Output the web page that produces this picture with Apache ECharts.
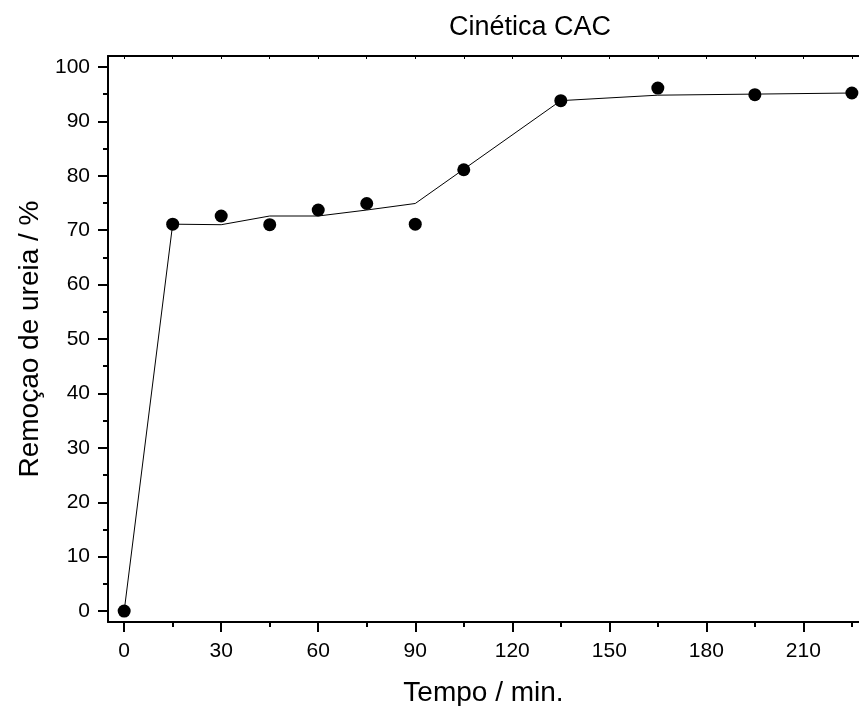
<!DOCTYPE html>
<html><head><meta charset="utf-8">
<script src="https://cdn.jsdelivr.net/npm/echarts@6/dist/echarts.min.js"></script>
<style>html,body{margin:0;padding:0;background:#fff}#c{width:859px;height:706px}</style>
</head><body><div id="c"></div>
<script>
const time = [0, 15, 30, 45, 60, 75, 90, 105, 135, 165, 195, 225];
const removal = [0, 71.1, 72.6, 71.0, 73.7, 74.9, 71.1, 81.1, 93.8, 96.1, 94.9, 95.2];
const lineTime = [0, 15, 30, 45, 60, 75, 90, 135, 165, 195, 225];
const lineValues = [0, 71.1, 71.0, 72.6, 72.6, 73.7, 74.9, 93.8, 94.8, 95.0, 95.2];
const xMajorTicks = [0, 30, 60, 90, 120, 150, 180, 210];
const xMinorTicks = [15, 45, 75, 105, 135, 165, 195, 225];
const yMajorTicks = [0, 10, 20, 30, 40, 50, 60, 70, 80, 90, 100];
const yMinorTicks = [5, 15, 25, 35, 45, 55, 65, 75, 85, 95];
const titleText = 'Cinética CAC';
const xName = 'Tempo / min.';
const yName = 'Remoçao de ureia / %';

const FONT = 'Liberation Sans';
const X_MIN = -5, X_MAX = 227.2, Y_MIN = -2, Y_MAX = 102;
const chart = echarts.init(document.getElementById('c'));
const lineStyle = {color: '#000', width: 2};
chart.setOption({
  animation: false,
  backgroundColor: '#fff',
  title: {text: titleText, left: 525, top: 9, textAlign: 'center',
    textStyle: {fontFamily: FONT, fontSize: 27, fontWeight: 'normal', color: '#000'}},
  grid: {left: 108, top: 56, right: 0, bottom: 84, containLabel: false, outerBoundsMode: 'none'},
  xAxis: [
    {type: 'value', min: X_MIN, max: X_MAX, position: 'bottom',
      name: xName, nameLocation: 'middle', nameGap: 57,
      nameTextStyle: {fontFamily: FONT, fontSize: 28, color: '#000'},
      axisLine: {show: true, onZero: false, lineStyle},
      axisTick: {show: true, inside: false, length: 10, lineStyle: {width: 2, color: '#000'}, customValues: xMajorTicks},
      axisLabel: {show: true, margin: 19, fontFamily: FONT, fontSize: 21, color: '#000', customValues: xMajorTicks},
      splitLine: {show: false}},
    {type: 'value', min: X_MIN, max: X_MAX, position: 'bottom',
      axisLine: {show: false, onZero: false},
      axisTick: {show: true, inside: false, length: 5, lineStyle: {width: 2, color: '#000'}, customValues: xMinorTicks},
      axisLabel: {show: false}, splitLine: {show: false}},
    {type: 'value', min: X_MIN, max: X_MAX, position: 'top',
      axisLine: {show: true, onZero: false, lineStyle},
      axisTick: {show: true, inside: true, length: 3, lineStyle: {width: 1, color: '#000'}, customValues: xMajorTicks.concat(xMinorTicks)},
      axisLabel: {show: false}, splitLine: {show: false}}
  ],
  yAxis: [
    {type: 'value', min: Y_MIN, max: Y_MAX, position: 'left',
      name: yName, nameLocation: 'middle', nameGap: 64, nameRotate: 90,
      nameTextStyle: {fontFamily: FONT, fontSize: 28, color: '#000'},
      axisLine: {show: true, onZero: false, lineStyle},
      axisTick: {show: true, inside: false, length: 10, lineStyle: {width: 2, color: '#000'}, customValues: yMajorTicks},
      axisLabel: {show: true, margin: 18, fontFamily: FONT, fontSize: 21, color: '#000', customValues: yMajorTicks},
      splitLine: {show: false}},
    {type: 'value', min: Y_MIN, max: Y_MAX, position: 'left',
      axisLine: {show: false, onZero: false},
      axisTick: {show: true, inside: false, length: 5, lineStyle: {width: 2, color: '#000'}, customValues: yMinorTicks},
      axisLabel: {show: false}, splitLine: {show: false}}
  ],
  series: [
    {type: 'line', xAxisIndex: 0, yAxisIndex: 0, showSymbol: false, symbol: 'none',
      data: lineTime.map((t, i) => [t, lineValues[i]]),
      lineStyle: {color: '#000', width: 1}, z: 2, silent: true},
    {type: 'scatter', xAxisIndex: 0, yAxisIndex: 0, symbol: 'circle', symbolSize: 13,
      data: time.map((t, i) => [t, removal[i]]),
      itemStyle: {color: '#000', opacity: 1}, z: 3}
  ]
});
</script></body></html>
